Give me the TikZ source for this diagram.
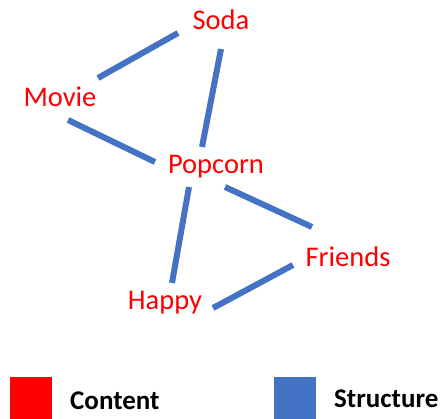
\documentclass[tikz,border=0pt]{standalone}
\usepackage{fontspec}
\setmainfont{Carlito}
\definecolor{lblred}{RGB}{255,0,0}
\definecolor{strblue}{RGB}{68,114,196}
\begin{document}
\begin{tikzpicture}[x=1pt,y=-1pt,
  word/.style={text=lblred,font=\fontsize{28.5}{30}\selectfont,inner sep=0pt,anchor=center},
  link/.style={strblue,line width=6pt},
  legtext/.style={font=\fontsize{27}{29}\selectfont\bfseries,inner sep=0pt,anchor=west},
  swatch/.style={inner sep=0pt,minimum size=42pt,anchor=north west}]
\useasboundingbox (0,0) rectangle (445,419);
\node[word] (soda) at (221,20) {Soda};
\node[word] (movie) at (60,97) {Movie};
\node[word] (popcorn) at (216,167) {Popcorn};
\node[word] (friends) at (348,257) {Friends};
\node[word] (happy) at (165,303) {Happy};
% connector end points
\coordinate (ms1) at (98,78); \coordinate (ms2) at (178,33);
\coordinate (sp1) at (221,49); \coordinate (sp2) at (202,147);
\coordinate (mp1) at (68,120); \coordinate (mp2) at (155,162);
\coordinate (pf1) at (225,187); \coordinate (pf2) at (312,227);
\coordinate (ph1) at (189,187); \coordinate (ph2) at (172,283);
\coordinate (hf1) at (213,308); \coordinate (hf2) at (293,265);
\draw[link] (ms1) -- (ms2);
\draw[link] (sp1) -- (sp2);
\draw[link] (mp1) -- (mp2);
\draw[link] (pf1) -- (pf2);
\draw[link] (ph1) -- (ph2);
\draw[link] (hf1) -- (hf2);
% legend
\node[swatch,fill=lblred] (redbox) at (10,377) {};
\node[legtext] (content) at (70,401) {Content};
\node[swatch,fill=strblue] (bluebox) at (274,377) {};
\node[legtext] (structure) at (334,399) {Structure};
\end{tikzpicture}
\end{document}
